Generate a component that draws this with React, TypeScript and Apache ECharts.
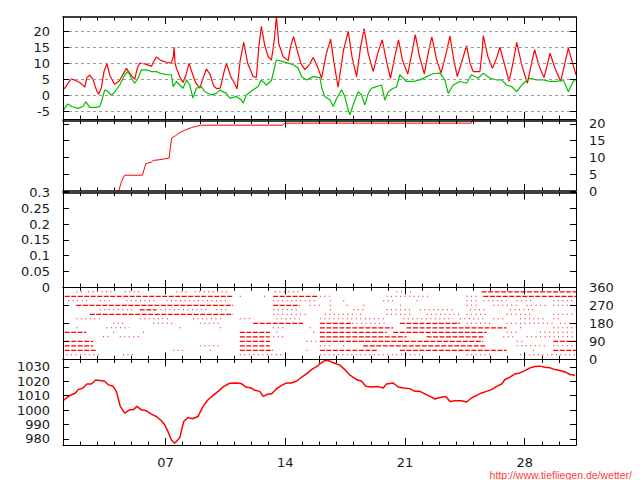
import React, { useEffect, useRef } from 'react';
import * as echarts from 'echarts';

// ---------- data ----------
const dayTicks = [1,2,3,4,5,6,7,8,9,10,11,12,13,14,15,16,17,18,19,20,21,22,23,24,25,26,27,28,29,30,31];
const weekTicks = [7, 14, 21, 28];
const tempTicks = [-5, 0, 5, 10, 15, 20];
const rainTicks = [0, 5, 10, 15, 20];
const rateTicks = [0, 0.05, 0.1, 0.15, 0.2, 0.25, 0.3];
const windTicks = [0, 90, 180, 270, 360];
const pressTicks = [980, 990, 1000, 1010, 1020, 1030];

const tempRed = [
  [1.00,1.7],[1.15,2.5],[1.30,3.8],[1.49,5.1],[1.75,4.6],[1.98,4.0],[2.20,3.0],[2.27,2.5],[2.40,5.5],[2.56,6.3],
  [2.75,5.0],[2.95,1.7],[3.09,0.3],[3.25,2.5],[3.40,7.5],[3.57,9.8],[3.75,6.0],[4.02,3.4],[4.30,4.5],[4.50,6.5],
  [4.71,8.4],[4.95,6.5],[5.19,5.0],[5.35,8.5],[5.49,10.0],[5.80,9.8],[6.17,9.0],[6.30,10.5],[6.46,11.9],[6.75,10.8],
  [7.05,10.3],[7.34,10.0],[7.45,12.0],[7.50,15.0],[7.55,10.0],[7.63,8.5],[7.85,5.5],[8.02,4.0],[8.20,6.5],[8.37,10.0],
  [8.55,7.0],[8.75,4.0],[9.00,2.2],[9.20,5.5],[9.39,8.2],[9.60,6.5],[9.80,3.0],[9.97,2.1],[10.20,2.2],[10.40,7.0],
  [10.56,9.9],[10.80,6.0],[11.05,3.5],[11.18,2.0],[11.35,10.5],[11.57,16.5],[11.80,10.0],[12.12,5.8],[12.31,5.6],[12.45,15.0],
  [12.60,21.5],[12.80,15.5],[13.00,12.0],[13.19,11.0],[13.35,17.0],[13.48,24.4],[13.62,16.0],[13.88,12.0],[14.17,10.8],[14.30,15.0],
  [14.48,18.3],[14.70,14.0],[14.90,10.0],[15.14,8.0],[15.40,9.5],[15.63,11.8],[15.92,8.4],[16.12,5.3],[16.40,13.0],[16.65,17.5],
  [16.85,10.0],[17.09,2.5],[17.40,14.0],[17.68,19.9],[17.90,12.0],[18.17,5.8],[18.40,15.0],[18.61,20.8],[18.85,13.0],[19.14,7.4],
  [19.40,13.0],[19.67,17.3],[19.90,11.0],[20.15,5.3],[20.40,12.0],[20.62,17.3],[20.85,11.0],[21.16,6.6],[21.40,13.0],[21.60,18.9],
  [21.85,12.0],[22.13,6.7],[22.35,13.0],[22.57,18.2],[22.85,11.0],[23.11,6.9],[23.40,13.0],[23.63,18.5],[23.85,11.0],[24.06,5.8],
  [24.35,11.0],[24.60,15.5],[24.80,10.0],[24.99,7.4],[25.38,7.4],[25.50,13.0],[25.58,18.6],[25.85,12.0],[26.11,8.4],[26.35,11.5],
  [26.55,15.0],[26.85,9.0],[27.09,4.3],[27.35,11.0],[27.53,16.5],[27.85,9.0],[28.16,3.75],[28.40,10.0],[28.58,14.2],[28.85,9.0],
  [29.13,5.5],[29.30,9.0],[29.48,13.1],[29.80,8.0],[30.11,4.3],[30.35,10.0],[30.55,14.7],[30.80,10.0],[31.00,6.4]
];

const tempGreen = [
  [1.00,-5.1],[1.10,-4.0],[1.29,-2.7],[1.50,-3.5],[1.88,-4.1],[2.17,-3.5],[2.33,-2.0],[2.56,-3.75],[2.95,-3.75],[3.15,-3.5],
  [3.25,-2.0],[3.44,1.7],[3.60,1.3],[3.83,0.0],[4.02,1.0],[4.32,3.2],[4.61,6.4],[4.80,7.4],[5.00,5.3],[5.19,3.75],
  [5.39,5.3],[5.58,7.9],[5.88,7.9],[6.17,7.4],[6.46,7.4],[6.66,6.9],[7.05,6.4],[7.34,6.4],[7.44,2.7],[7.63,4.3],
  [7.83,3.2],[8.02,2.2],[8.22,4.8],[8.41,3.2],[8.60,-0.9],[8.80,2.2],[9.09,2.7],[9.29,1.1],[9.68,0.1],[9.97,0.6],
  [10.17,1.6],[10.56,0.6],[10.75,-0.9],[11.14,-0.4],[11.43,-1.5],[11.53,-2.5],[11.73,0.1],[12.12,1.7],[12.41,2.7],[12.60,4.8],
  [12.90,3.2],[13.19,4.6],[13.48,11.0],[13.87,10.5],[14.17,10.0],[14.46,9.5],[14.75,8.5],[14.95,5.8],[15.24,4.8],[15.63,5.8],
  [16.02,5.5],[16.15,2.0],[16.31,-0.4],[16.61,-1.5],[16.80,-3.5],[17.00,-1.0],[17.29,1.7],[17.48,-0.4],[17.68,-4.6],[17.78,-6.1],
  [17.97,-3.0],[18.26,1.1],[18.46,0.1],[18.65,-3.0],[18.85,0.6],[19.04,2.2],[19.34,2.7],[19.63,3.2],[19.82,-1.5],[20.02,1.1],
  [20.31,2.2],[20.50,2.5],[20.70,6.4],[21.09,4.3],[21.48,4.3],[21.87,4.8],[22.26,5.8],[22.65,6.7],[23.04,6.9],[23.33,4.8],
  [23.53,0.6],[23.82,3.2],[24.21,4.3],[24.60,3.75],[24.89,6.4],[25.28,5.3],[25.58,6.9],[25.97,5.3],[26.36,4.8],[26.65,4.8],
  [26.94,3.2],[27.24,2.7],[27.53,1.1],[27.92,3.75],[28.31,5.3],[28.70,4.8],[29.09,4.8],[29.48,4.3],[29.87,4.3],[30.26,4.8],
  [30.55,1.1],[30.84,4.3],[31.00,5.0]
];

const rainSum = [
  [4.26,0],[4.41,2.7],[4.55,4.2],[4.61,4.7],[5.64,4.7],[5.72,6.0],[5.84,8.1],[6.17,8.6],[6.27,9.1],
  [6.62,9.3],[7.20,9.8],[7.28,13.0],[7.36,15.8],[7.59,16.5],[7.83,17.4],[8.12,18.1],[8.51,18.9],[9.06,19.6],[13.83,19.6],
  [13.97,20.2],[24.86,20.2],[25.00,21.2],[31.00,21.5]
];

const windDirs = [337.5, 315, 292.5, 270, 247.5, 225, 202.5, 180, 157.5, 135, 112.5, 90, 67.5, 45, 22.5];
// runs per direction: [startDay, endDay, dense(1) / sparse(0)]
const windRuns = [
  [[1.78,2.17,0],[2.46,3.83,0],[4.61,5.68,0],[7.63,8.22,0],[8.7,10.75,0],[13.39,14.85,0],[20.51,20.9,0],[21.29,21.48,0],[25.48,31.0,1]],
  [[1.1,10.95,1],[11.34,11.53,0],[12.75,12.85,0],[13.29,15.92,1],[16.02,16.6,0],[19.92,22.46,0],[24.6,25.38,0],[25.58,31.0,1]],
  [[1.3,2.5,0],[3.15,3.73,0],[4.71,6.46,0],[7.05,10.75,0],[13.29,15.82,0],[16.6,16.7,0],[17.39,17.5,0],[19.73,20.31,0],[21.68,21.8,0],[24.6,25.19,0],[25.58,26.94,0],[27.53,28.5,0],[29.67,30.84,0]],
  [[1.78,10.95,1],[13.29,14.85,1],[15.43,16.02,0],[16.6,16.7,0],[17.58,17.7,0],[18.56,18.7,0],[20.7,20.9,0],[24.6,25.19,0],[26.16,27.72,0],[28.11,29.28,0],[29.67,30.84,0]],
  [[3.15,5.1,0],[5.49,6.46,1],[6.7,9.39,0],[9.97,10.75,0],[13.29,14.85,0],[16.6,16.7,0],[17.97,18.56,0],[19.92,21.48,0],[21.87,23.82,0],[24.8,25.77,0],[27.14,28.5,0]],
  [[2.56,10.95,1],[13.29,15.24,0],[16.31,18.17,0],[18.36,18.56,0],[19.92,21.48,0],[22.26,24.21,0],[24.6,25.77,0],[26.94,28.5,0],[29.67,30.84,0]],
  [[1.78,3.15,0],[5.49,7.24,0],[8.6,10.36,0],[11.34,12.12,0],[13.48,14.85,0],[16.02,19.92,0],[20.9,23.82,0],[24.21,25.77,0],[26.16,26.94,0],[27.72,29.28,0],[29.67,30.06,0]],
  [[3.93,4.71,0],[6.27,7.44,0],[9.0,10.17,0],[12.12,15.04,1],[16.02,17.97,1],[18.17,19.92,0],[20.7,24.21,1],[24.6,26.16,0],[26.94,29.67,0],[30.06,30.84,0]],
  [[1.78,2.0,0],[3.54,4.9,0],[7.83,7.9,0],[10.17,10.25,0],[13.29,14.07,0],[15.43,15.5,0],[16.02,20.31,1],[21.09,26.94,1],[27.72,27.8,0],[29.67,31.0,0]],
  [[1.1,2.37,1],[3.93,4.0,0],[5.68,5.75,0],[11.34,13.09,1],[13.48,13.6,0],[15.63,15.7,0],[16.02,19.92,1],[20.31,25.77,1],[26.94,27.72,0],[28.89,31.0,0]],
  [[3.34,3.73,0],[4.32,5.49,0],[11.34,13.09,1],[13.29,14.07,0],[16.02,21.09,1],[22.26,25.58,1],[26.75,27.33,0],[28.11,31.0,0]],
  [[1.1,2.76,1],[11.34,13.09,1],[15.24,16.02,0],[16.02,25.58,1],[27.53,27.92,0],[29.67,31.0,1]],
  [[1.1,2.76,1],[9.0,10.17,0],[11.34,13.09,1],[16.02,16.8,0],[17.39,17.5,0],[18.56,25.77,1],[27.53,29.28,0],[29.67,31.0,0]],
  [[1.1,2.95,1],[7.44,8.22,0],[9.58,9.65,0],[11.34,13.29,1],[15.24,15.3,0],[16.02,19.34,1],[20.7,26.94,1],[28.5,28.6,0],[29.67,31.0,1]],
  [[1.2,3.15,0],[4.51,5.1,0],[11.34,13.87,0],[16.02,21.87,0],[24.6,26.16,0],[27.72,31.0,0]]
];

const pressure = [
  [1.00,1006.5],[1.20,1008.4],[1.49,1010.7],[1.74,1011.9],[1.88,1014.2],[2.17,1015.3],[2.40,1018.1],[2.66,1018.1],[2.91,1020.9],[3.15,1020.5],
  [3.44,1020.0],[3.63,1017.7],[3.93,1016.5],[4.12,1013.0],[4.35,1002.6],[4.61,997.9],[4.90,1000.2],[5.10,1000.2],[5.33,1002.6],[5.58,1000.2],
  [5.88,999.5],[6.17,997.2],[6.46,995.6],[6.75,992.6],[6.95,989.8],[7.14,985.1],[7.34,979.3],[7.53,977.0],[7.83,980.9],[8.06,992.1],
  [8.31,994.9],[8.57,994.0],[8.90,995.6],[9.19,1002.6],[9.48,1007.2],[9.78,1010.2],[10.07,1013.0],[10.40,1016.5],[10.75,1018.6],[11.14,1018.8],
  [11.43,1018.4],[11.73,1015.8],[12.02,1015.3],[12.22,1013.7],[12.51,1013.0],[12.70,1009.5],[13.00,1011.2],[13.19,1011.2],[13.48,1014.7],[13.78,1017.2],
  [14.07,1018.8],[14.36,1018.8],[14.65,1020.0],[14.95,1022.8],[15.24,1025.1],[15.53,1028.1],[15.92,1030.9],[16.02,1032.1],[16.31,1034.4],[16.51,1034.4],
  [16.80,1032.8],[17.19,1031.2],[17.48,1028.1],[17.78,1024.2],[18.17,1021.2],[18.46,1020.0],[18.71,1016.5],[19.04,1016.0],[19.43,1016.3],[19.73,1015.3],
  [19.92,1018.1],[20.31,1018.8],[20.60,1016.0],[20.90,1015.3],[21.29,1014.9],[21.58,1013.0],[21.87,1013.0],[22.16,1011.2],[22.46,1009.5],[22.75,1007.7],
  [23.04,1008.8],[23.39,1009.5],[23.63,1006.0],[23.92,1006.5],[24.31,1006.5],[24.60,1005.6],[24.89,1008.4],[25.19,1010.2],[25.48,1011.9],[25.77,1013.0],
  [26.06,1014.2],[26.36,1016.5],[26.65,1018.1],[26.85,1021.2],[27.14,1022.8],[27.43,1025.1],[27.72,1025.8],[28.02,1027.4],[28.31,1029.3],[28.60,1030.2],
  [28.89,1030.5],[29.19,1029.8],[29.48,1029.3],[29.77,1028.1],[30.06,1027.4],[30.36,1026.5],[30.65,1024.7],[30.94,1024.2]
];

// ---------- styling ----------
const FONT = 'DejaVu Sans';
const TXT = '#1a1a1a';
const lab = { fontFamily: FONT, fontSize: 13, color: TXT };

const gridRects = [
  { top: 17, height: 102 },
  { top: 120.5, height: 70.5 },
  { top: 192.5, height: 94.5 },
  { top: 287.3, height: 72 },
  { top: 359.5, height: 85.5 },
];

function xAxesFor(i: number, bottomW: number, topW: number, labels: boolean) {
  const base = { type: 'value', gridIndex: i, min: 1, max: 31, splitLine: { show: false }, z: 5 };
  const tickStyle = { color: '#000', width: 1 };
  return [
    { ...base, position: 'bottom', axisLine: { show: true, onZero: false, lineStyle: { color: '#000', width: bottomW } },
      axisTick: { show: true, inside: true, length: 3.5, customValues: dayTicks, lineStyle: tickStyle }, axisLabel: { show: false } },
    { ...base, position: 'bottom', axisLine: { show: false, onZero: false },
      axisTick: { show: true, inside: true, length: 7, customValues: weekTicks, lineStyle: tickStyle },
      axisLabel: labels ? { show: true, customValues: weekTicks, margin: 11, ...lab,
        formatter: (v: number) => (v < 10 ? '0' : '') + v } : { show: false } },
    { ...base, position: 'top', axisLine: { show: true, onZero: false, lineStyle: { color: '#000', width: topW } },
      axisTick: { show: true, inside: true, length: 3.5, customValues: dayTicks, lineStyle: tickStyle }, axisLabel: { show: false } },
    { ...base, position: 'top', axisLine: { show: false, onZero: false },
      axisTick: { show: true, inside: true, length: 7, customValues: weekTicks, lineStyle: tickStyle }, axisLabel: { show: false } },
  ];
}

function yAxesFor(i: number, min: number, max: number, ticks: number[], side: string, split: boolean) {
  const mk = (pos: string) => ({
    type: 'value', gridIndex: i, position: pos, min, max, z: 5,
    axisLine: { show: true, onZero: false, lineStyle: { color: '#000', width: 1 } },
    axisTick: { show: true, inside: true, length: 6, customValues: ticks, lineStyle: { color: '#000' } },
    axisLabel: side === pos
      ? { show: true, customValues: ticks, margin: 13, ...lab, formatter: (v: number) => String(v) }
      : { show: false },
    splitLine: split && pos === 'left'
      ? { show: true, lineStyle: { color: '#9a9a9a', type: [3, 3], width: 1 } }
      : { show: false },
  });
  return [mk('left'), mk('right')];
}

export default function App() {
  const ref = useRef<HTMLDivElement>(null);
  useEffect(() => {
    if (!ref.current) return;
    const chart = echarts.init(ref.current, null, { renderer: 'svg' });

    const windData: number[][] = [];
    windDirs.forEach((d, k) => {
      windRuns[k].forEach((r) => windData.push([d, r[0], r[1], r[2]]));
    });

    const option: any = {
      animation: false,
      backgroundColor: '#ffffff',
      title: {
        text: 'http://www.tiefliegen.de/wetter/',
        right: 3, top: 464,
        textStyle: { fontFamily: 'Liberation Sans', fontSize: 10.5, fontWeight: 'normal', color: '#ff3c3c' },
      },
      grid: gridRects.map((g) => ({ left: 63, right: 64, top: g.top, height: g.height, containLabel: false })),
      xAxis: [
        ...xAxesFor(0, 1, 1.5, false),
        ...xAxesFor(1, 1.5, 1.5, false),
        ...xAxesFor(2, 1, 1.5, false),
        ...xAxesFor(3, 1, 1, false),
        ...xAxesFor(4, 1, 1, true),
      ],
      yAxis: [
        ...yAxesFor(0, -7.4, 24.4, tempTicks, 'left', true),
        ...yAxesFor(1, 0, 21, rainTicks, 'right', false),
        ...yAxesFor(2, 0, 0.3, rateTicks, 'left', false),
        ...yAxesFor(3, 0, 360, windTicks, 'right', false),
        ...yAxesFor(4, 975.8, 1035.1, pressTicks, 'left', false),
      ],
      series: [
        { type: 'line', xAxisIndex: 0, yAxisIndex: 0, data: tempRed, showSymbol: false, silent: true,
          lineStyle: { color: '#ff0000', width: 1.2 }, itemStyle: { color: '#ff0000' }, z: 2 },
        { type: 'line', xAxisIndex: 0, yAxisIndex: 0, data: tempGreen, showSymbol: false, silent: true,
          lineStyle: { color: '#00c000', width: 1.2 }, itemStyle: { color: '#00c000' }, z: 3 },
        { type: 'line', xAxisIndex: 4, yAxisIndex: 2, data: rainSum, showSymbol: false, silent: true, z: 1,
          lineStyle: { color: '#ff0000', width: 1 }, itemStyle: { color: '#ff0000' } },
        { type: 'custom', xAxisIndex: 12, yAxisIndex: 6, data: windData, silent: true, clip: true, z: 1,
          encode: { x: [1, 2], y: 0 },
          renderItem: (params: any, api: any) => {
            const dir = api.value(0), s = api.value(1), e = api.value(2), dense = api.value(3);
            const p1 = api.coord([s, dir]);
            const p2 = api.coord([e, dir]);
            return {
              type: 'line',
              shape: { x1: p1[0], y1: p1[1], x2: p2[0], y2: p2[1] },
              style: { stroke: '#ff0000', lineWidth: dense ? 1.3 : 1.1, lineDash: dense ? [5, 1.5] : [1, 3.5] },
            };
          } },
        { type: 'line', xAxisIndex: 16, yAxisIndex: 8, data: pressure, showSymbol: false, silent: true,
          lineStyle: { color: '#ff0000', width: 1.5 }, itemStyle: { color: '#ff0000' } },
      ],
    };
    chart.setOption(option);
    return () => chart.dispose();
  }, []);
  return <div ref={ref} style={{ position: 'absolute', left: 0, top: 0, width: 640, height: 480, background: '#fff' }} />;
}
